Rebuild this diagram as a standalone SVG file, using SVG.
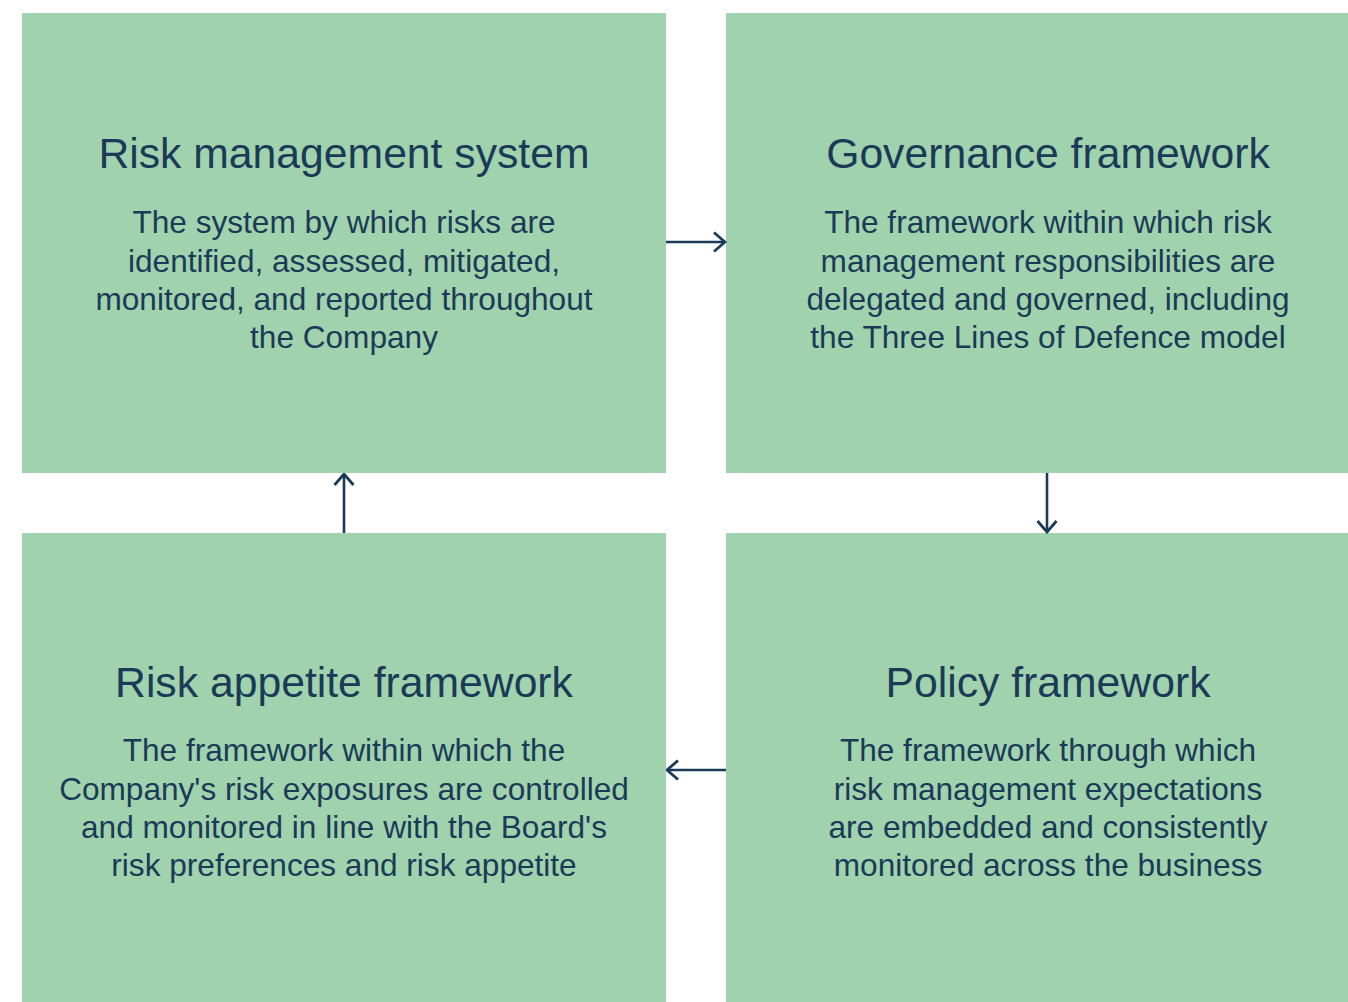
<svg xmlns="http://www.w3.org/2000/svg" width="1348" height="1002" viewBox="0 0 1348 1002">
<defs>
<style>
.box{fill:#a0d3ad}
.t{font-family:"Liberation Sans",Arial,sans-serif;fill:#1b3a57;text-anchor:middle}
.h{font-size:42.7px}
.b{font-size:31.6px}
.c{stroke:#1b3a57;stroke-width:2.6;fill:none}
</style>
<marker id="ah" viewBox="0 0 14 22" refX="12.5" refY="11" markerWidth="14" markerHeight="22" markerUnits="userSpaceOnUse" orient="auto">
<path d="M1.5,1.5 L12.5,11 L1.5,20.5" fill="none" stroke="#1b3a57" stroke-width="2.8"/>
</marker>
</defs>
<rect width="1348" height="1002" fill="#ffffff"/>
<g id="risk-management-system">
<rect class="box" x="22" y="13" width="644" height="460"/>
<text class="t h" x="344" y="168">Risk management system</text>
<text class="t b" x="344" y="233">The system by which risks are</text>
<text class="t b" x="344" y="272">identified, assessed, mitigated,</text>
<text class="t b" x="344" y="310">monitored, and reported throughout</text>
<text class="t b" x="344" y="348">the Company</text>
</g>
<g id="governance-framework">
<rect class="box" x="726" y="13" width="644" height="460"/>
<text class="t h" x="1048" y="168">Governance framework</text>
<text class="t b" x="1048" y="233">The framework within which risk</text>
<text class="t b" x="1048" y="272">management responsibilities are</text>
<text class="t b" x="1048" y="310">delegated and governed, including</text>
<text class="t b" x="1048" y="348">the Three Lines of Defence model</text>
</g>
<g id="policy-framework">
<rect class="box" x="726" y="533" width="644" height="480"/>
<text class="t h" x="1048" y="697">Policy framework</text>
<text class="t b" x="1048" y="761">The framework through which</text>
<text class="t b" x="1048" y="800">risk management expectations</text>
<text class="t b" x="1048" y="838">are embedded and consistently</text>
<text class="t b" x="1048" y="876">monitored across the business</text>
</g>
<g id="risk-appetite-framework">
<rect class="box" x="22" y="533" width="644" height="480"/>
<text class="t h" x="344" y="697">Risk appetite framework</text>
<text class="t b" x="344" y="761">The framework within which the</text>
<text class="t b" x="344" y="800">Company's risk exposures are controlled</text>
<text class="t b" x="344" y="838">and monitored in line with the Board's</text>
<text class="t b" x="344" y="876">risk preferences and risk appetite</text>
</g>
<g id="connectors">
<line class="c" x1="666" y1="242" x2="725" y2="242" marker-end="url(#ah)"/>
<line class="c" x1="1047" y1="473" x2="1047" y2="532" marker-end="url(#ah)"/>
<line class="c" x1="726" y1="770" x2="667" y2="770" marker-end="url(#ah)"/>
<line class="c" x1="344" y1="533" x2="344" y2="474" marker-end="url(#ah)"/>
</g>
</svg>
